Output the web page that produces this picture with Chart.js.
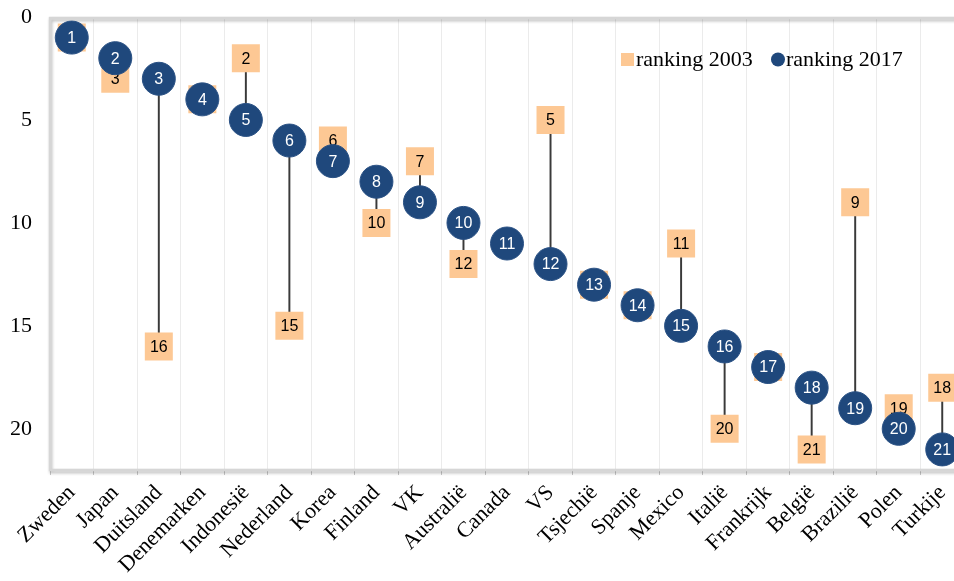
<!DOCTYPE html>
<html>
<head>
<meta charset="utf-8">
<script src="https://cdn.jsdelivr.net/npm/chart.js@4/dist/chart.umd.min.js"></script>
<style>
html,body{margin:0;padding:0;background:#fff;overflow:hidden;width:954px;height:581px;}
canvas{display:block;}
</style>
</head>
<body>
<canvas id="c" width="966" height="581" style="width:966px;height:581px"></canvas>
<script>
const categories = ['Zweden','Japan','Duitsland','Denemarken','Indonesië','Nederland','Korea','Finland','VK','Australië','Canada','VS','Tsjechië','Spanje','Mexico','Italië','Frankrijk','België','Brazilië','Polen','Turkije'];
const rank2003 = [1,3,16,4,2,15,6,10,7,12,null,5,13,14,11,20,17,21,9,19,18];
const rank2017 = [1,2,3,4,5,6,7,8,9,10,11,12,13,14,15,16,17,18,19,20,21];
const yTicks = [0,5,10,15,20];
const seriesNames = ['ranking 2003','ranking 2017'];

const ORANGE = '#fdc894';
const BLUE = '#1f487c';
const SERIF = '"Liberation Serif", "Times New Roman", serif';
const SANS = '"Liberation Sans", Arial, sans-serif';

const connectors = categories.map((c,i) => rank2003[i] == null ? null : [rank2003[i], rank2017[i]]);

const valueLabels = {
  id: 'valueLabels',
  afterDatasetDraw(chart, args) {
    const ds = chart.data.datasets[args.index];
    if (!ds.labelColor) return;
    const ctx = chart.ctx;
    ctx.save();
    ctx.font = '16px ' + SANS;
    ctx.fillStyle = ds.labelColor;
    ctx.textAlign = 'center';
    ctx.textBaseline = 'middle';
    args.meta.data.forEach((el, i) => {
      const v = ds.data[i];
      if (v == null) return;
      ctx.fillText(String(v), el.x, el.y + 1);
    });
    ctx.restore();
  }
};

const frame = {
  id: 'frame',
  beforeDatasetsDraw(chart) {
    const {ctx, chartArea: a} = chart;
    ctx.save();
    ctx.shadowColor = 'rgba(0,0,0,0.28)';
    ctx.shadowBlur = 3;
    ctx.shadowOffsetX = 1;
    ctx.shadowOffsetY = 2;
    ctx.strokeStyle = '#d6d6d6';
    ctx.lineWidth = 2.5;
    ctx.strokeRect(a.left, a.top + 1, a.right - a.left, a.bottom - a.top - 1);
    ctx.restore();
  }
};

const legendPlugin = {
  id: 'customLegend',
  afterDraw(chart) {
    const ctx = chart.ctx;
    ctx.save();
    ctx.fillStyle = ORANGE;
    ctx.fillRect(621, 53, 13, 13);
    ctx.fillStyle = '#000';
    ctx.font = '22px ' + SERIF;
    ctx.textBaseline = 'alphabetic';
    ctx.textAlign = 'left';
    ctx.fillText(seriesNames[0], 636, 66);
    ctx.fillStyle = BLUE;
    ctx.beginPath();
    ctx.arc(778, 59.5, 7, 0, Math.PI * 2);
    ctx.fill();
    ctx.fillStyle = '#000';
    ctx.fillText(seriesNames[1], 786, 66);
    ctx.restore();
  }
};

function zeroPad(s) { s.paddingTop = 0; s.paddingBottom = 0; s.paddingLeft = 0; s.paddingRight = 0; }

new Chart(document.getElementById('c'), {
  type: 'bar',
  data: {
    labels: categories,
    datasets: [
      {
        type: 'bar',
        label: 'verbinding',
        data: connectors,
        backgroundColor: '#3a3a3a',
        barThickness: 1.3,
        order: 3
      },
      {
        type: 'line',
        label: seriesNames[0],
        data: rank2003,
        showLine: false,
        pointStyle: 'rect',
        pointRadius: 19.8,
        pointHoverRadius: 19.8,
        pointBackgroundColor: ORANGE,
        pointBorderWidth: 0,
        pointBorderColor: ORANGE,
        labelColor: '#000',
        order: 2
      },
      {
        type: 'line',
        label: seriesNames[1],
        data: rank2017,
        showLine: false,
        pointStyle: 'circle',
        pointRadius: 16.5,
        pointHoverRadius: 16.5,
        pointBackgroundColor: BLUE,
        pointBorderColor: '#2b5285',
        pointBorderWidth: 1,
        labelColor: '#fff',
        order: 1
      }
    ]
  },
  options: {
    responsive: false,
    devicePixelRatio: 1,
    animation: false,
    layout: { autoPadding: false, padding: { top: 17, right: 2, left: 0, bottom: 0 } },
    plugins: { legend: { display: false }, tooltip: { enabled: false } },
    scales: {
      x: {
        offset: true,
        grid: { display: true, offset: true, color: '#ebebeb', lineWidth: 1, drawTicks: true, tickLength: 5, tickColor: '#c8c8c8' },
        border: { display: false },
        ticks: {
          autoSkip: false, minRotation: 45, maxRotation: 45, padding: 5,
          color: '#000', font: { family: SERIF, size: 22 }
        },
        afterFit(s) { s.height = 111; zeroPad(s); }
      },
      y: {
        reverse: true,
        min: 0,
        max: 22,
        grid: { display: false, drawTicks: false },
        border: { display: false },
        ticks: { stepSize: 5, padding: 18, color: '#000', font: { family: SERIF, size: 22 } },
        afterBuildTicks(s) { s.ticks = yTicks.map(v => ({ value: v })); },
        afterFit(s) { s.width = 50; zeroPad(s); }
      }
    }
  },
  plugins: [frame, valueLabels, legendPlugin]
});
</script>
</body>
</html>
